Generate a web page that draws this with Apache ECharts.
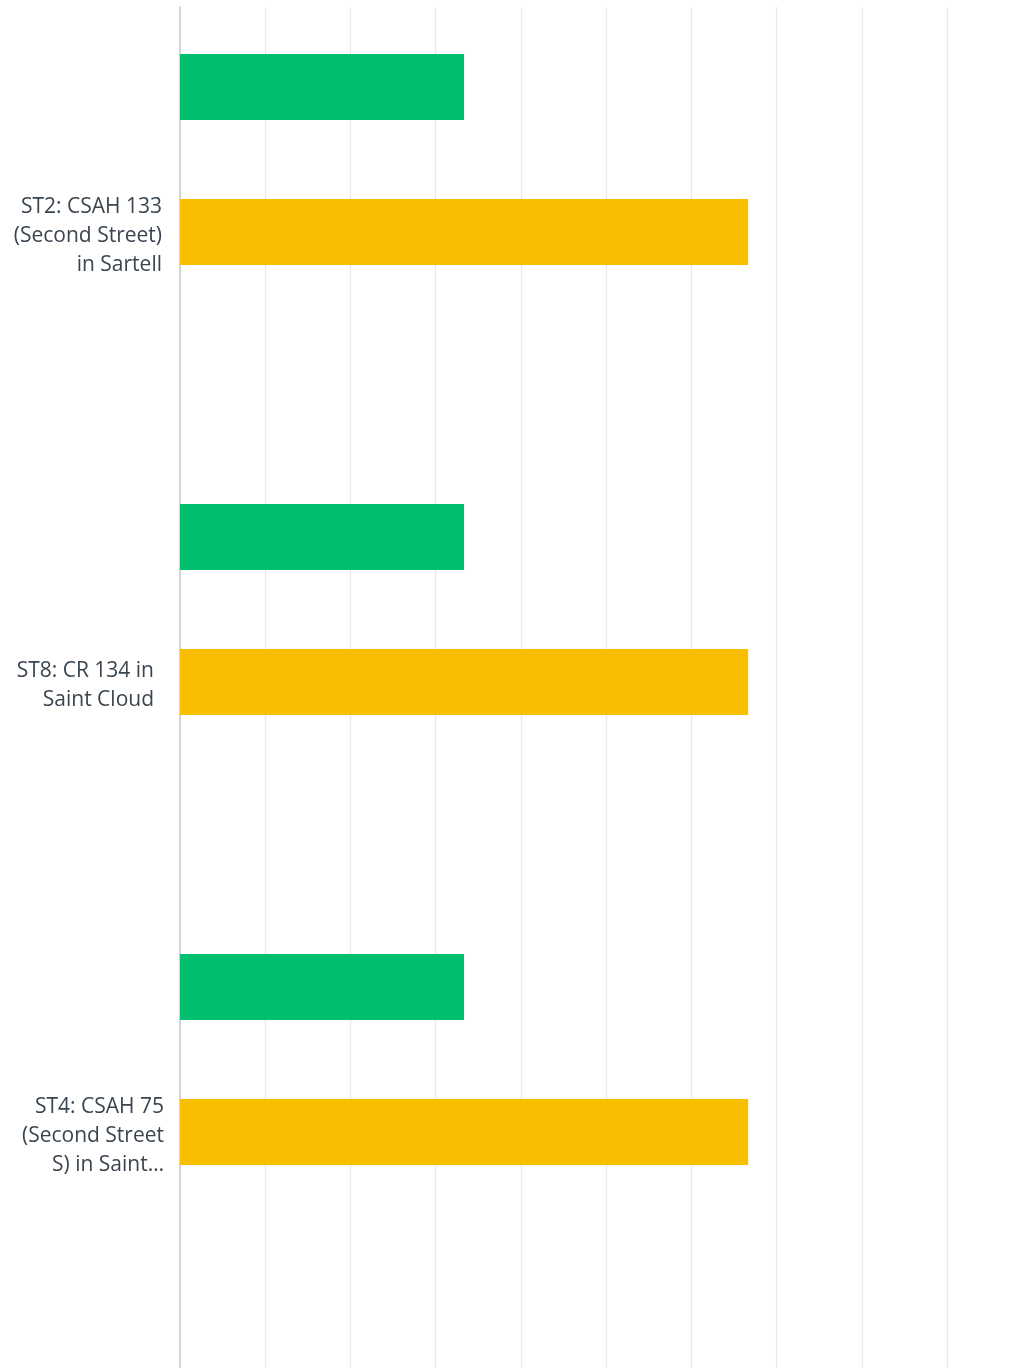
<!DOCTYPE html>
<html>
<head>
<meta charset="utf-8">
<script src="https://cdn.jsdelivr.net/npm/echarts@6/dist/echarts.min.js"></script>
<style>
html,body{margin:0;padding:0;background:#fff;overflow:hidden;}
#chart{width:1040px;height:1368px;}
</style>
</head>
<body>
<div id="chart"></div>
<script>
// Data
var categories = [
  'ST2: CSAH 133 (Second Street) in Sartell',
  'ST8: CR 134 in Saint Cloud',
  'ST4: CSAH 75 (Second Street S) in Saint Cloud'
];
var seriesGreen = [33.33, 33.33, 33.33];
var seriesYellow = [66.67, 66.67, 66.67];
var seriesThird = [0, 0, 0];
var xTicks = [0, 10, 20, 30, 40, 50, 60, 70, 80, 90, 100];

var LABEL_SIZE = 21;
var LABEL_FAMILY = '"Open Sans", sans-serif';
var measureCtx = document.createElement('canvas').getContext('2d');
measureCtx.font = LABEL_SIZE + 'px ' + LABEL_FAMILY;
function tw(s){ return measureCtx.measureText(s).width; }
function wrapLabel(text){
  var maxW = 157, maxLines = 3;
  var words = text.split(' ');
  var lines = [], cur = '';
  for (var i = 0; i < words.length; i++) {
    var t = cur ? cur + ' ' + words[i] : words[i];
    if (tw(t) <= maxW || !cur) { cur = t; }
    else { lines.push(cur); cur = words[i]; }
  }
  if (cur) lines.push(cur);
  if (lines.length > maxLines) {
    var rest = lines.slice(maxLines - 1).join(' ');
    var rw = rest.split(' '), acc = '';
    for (var j = 0; j < rw.length; j++) {
      var t2 = acc ? acc + ' ' + rw[j] : rw[j];
      if (tw(t2 + '\u2026') <= maxW) acc = t2; else break;
    }
    lines = lines.slice(0, maxLines - 1);
    lines.push(acc + '\u2026');
  }
  return lines.join('\n');
}

var labelPadRight = [0, 8, -2];
var catData = categories.map(function(c, i){
  return {value: c, textStyle: {padding: [0, labelPadRight[i], 0, 0]}};
});

var chart = echarts.init(document.getElementById('chart'));
chart.setOption({
  animation: false,
  backgroundColor: '#fff',
  grid: [
    {left: 180, top: 7, width: 852.2, height: 1350},
    {left: 180, top: 7, width: 852.2, bottom: 0},
    {left: 180, top: 11, width: 852.2, height: 1350}
  ],
  xAxis: [
    {gridIndex: 0, type: 'value', min: xTicks[0], max: xTicks[xTicks.length-1], interval: 10,
     axisLine: {show: false}, axisTick: {show: false}, axisLabel: {show: false}, splitLine: {show: false}},
    {gridIndex: 1, type: 'value', min: xTicks[0], max: xTicks[xTicks.length-1], interval: 10,
     axisLine: {show: false}, axisTick: {show: false}, axisLabel: {show: false},
     splitLine: {show: true, lineStyle: {color: '#e8e8e8', width: 1.3}}},
    {gridIndex: 2, type: 'value', min: xTicks[0], max: xTicks[xTicks.length-1], interval: 10, show: false}
  ],
  yAxis: [
    {gridIndex: 0, type: 'category', data: categories, inverse: true,
     axisLine: {show: false}, axisTick: {show: false}, splitLine: {show: false}, axisLabel: {show: false}},
    {gridIndex: 1, type: 'category', data: ['a'],
     axisLine: {show: true, lineStyle: {color: '#cccccc', width: 1.6}},
     axisTick: {show: false}, axisLabel: {show: false}, splitLine: {show: false}},
    {gridIndex: 2, type: 'category', data: catData, inverse: true,
     axisLine: {show: false}, axisTick: {show: false}, splitLine: {show: false},
     axisLabel: {margin: 18, align: 'right', fontSize: LABEL_SIZE, lineHeight: 29,
       fontFamily: LABEL_FAMILY, color: '#3a4550',
       formatter: function(v){ return wrapLabel(v); }}}
  ],
  series: [
    {type: 'bar', name: 'A', data: seriesGreen, xAxisIndex: 0, yAxisIndex: 0,
     barWidth: 66, barGap: '119.7%', itemStyle: {color: '#00BF6F'}},
    {type: 'bar', name: 'B', data: seriesYellow, xAxisIndex: 0, yAxisIndex: 0,
     barWidth: 66, barGap: '119.7%', itemStyle: {color: '#F9BE00'}},
    {type: 'bar', name: 'C', data: seriesThird, xAxisIndex: 0, yAxisIndex: 0,
     barWidth: 66, barGap: '119.7%', itemStyle: {color: '#6BC8CD'}}
  ]
});
</script>
</body>
</html>
